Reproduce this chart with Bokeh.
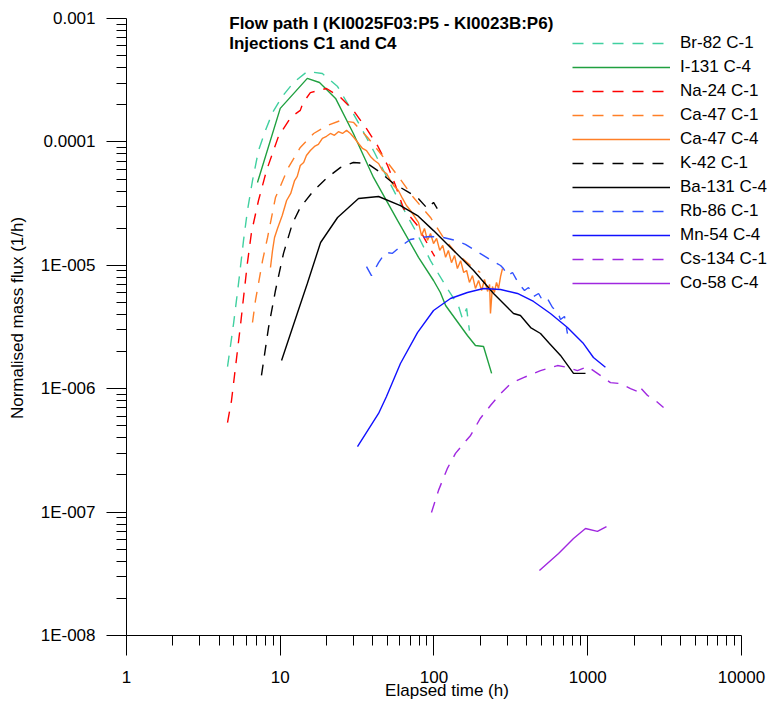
from bokeh.plotting import figure
from bokeh.models import FixedTicker, Label
from bokeh.embed import file_html
from bokeh.resources import INLINE

# ---------------- data (time in h, normalised mass flux in 1/h) ----------------
br82_t = [4.54, 4.75, 4.97, 5.19, 5.43, 5.77, 6.12, 6.60, 7.22, 8.02, 8.91, 10.3, 12.2, 15.0,
          18.8, 23.6, 29.1, 34.3, 41.0, 49.1, 60.5, 75.8, 94.9, 122, 144, 153, 163, 170]
br82_f = [1.51e-6, 2.24e-6, 3.37e-6, 5.19e-6, 8.26e-6, 1.59e-5, 2.78e-5, 4.86e-5, 8.51e-5, 1.24e-4,
          1.73e-4, 2.33e-4, 3.03e-4, 3.72e-4, 3.58e-4, 2.81e-4, 1.80e-4, 1.24e-4, 8.20e-5, 5.25e-5,
          3.17e-5, 1.91e-5, 1.09e-5, 6.49e-6, 4.72e-6, 3.71e-6, 4.47e-6, 2.96e-6]

i131_t = [7.11, 10.0, 15.0, 18.0, 22.9, 29.9, 40.4, 57.9, 79.3, 99.3, 110, 119, 165, 186, 210, 237]
i131_f = [4.69e-5, 1.87e-4, 3.27e-4, 3.03e-4, 2.25e-4, 1.17e-4, 5.15e-5, 2.31e-5, 1.16e-5, 7.53e-6,
          6.02e-6, 4.72e-6, 2.70e-6, 2.24e-6, 2.20e-6, 1.33e-6]

na24_t = [4.54, 4.82, 5.04, 5.27, 5.51, 5.77, 6.12, 6.50, 7.22, 8.14, 9.74, 11.7, 13.5, 14.0, 15.7,
          20.0, 24.7, 29.9, 36.4, 42.9, 49.9, 56.2, 63.4, 78.1, 88.1, 101]
na24_f = [5.32e-7, 8.02e-7, 1.28e-6, 2.04e-6, 3.25e-6, 5.48e-6, 1.05e-5, 1.85e-5, 3.35e-5, 5.86e-5,
          1.11e-4, 1.58e-4, 1.80e-4, 2.05e-4, 2.51e-4, 2.71e-4, 2.29e-4, 1.80e-4, 1.28e-4, 9.35e-5,
          6.44e-5, 4.43e-5, 2.88e-5, 2.10e-5, 1.59e-5, 1.18e-5]

ca47c1_t = [6.60, 6.90, 7.22, 7.67, 8.27, 9.31, 11.3, 13.5, 16.5, 20.3, 24.7, 29.9, 36.9, 44.9,
            57.9, 73.6, 94.9, 115, 138, 173, 200]
ca47c1_f = [3.44e-6, 5.19e-6, 7.12e-6, 1.09e-5, 1.68e-5, 3.54e-5, 6.21e-5, 9.01e-5, 1.17e-4, 1.36e-4,
            1.49e-4, 1.44e-4, 1.09e-4, 8.05e-5, 5.35e-5, 3.54e-5, 2.44e-5, 1.68e-5, 1.27e-5, 9.96e-6,
            8.74e-6]

ca47c4_t = [8.64, 8.91, 9.18, 9.60, 10.3, 11.0, 11.7, 12.4, 12.9, 13.5, 14.2, 14.8, 15.7, 16.7, 17.7,
            18.8, 20.0, 21.2, 22.5, 23.9, 25.4, 27.0, 28.6, 30.4, 32.3, 34.3, 36.4, 38.6, 41.0, 43.6,
            46.2, 49.1, 52.1, 55.3, 58.7, 62.4, 66.2, 70.3, 74.7, 79.3, 83.0, 86.7, 90.7, 94.9, 99.3,
            104, 109, 114, 119, 124, 130, 136, 142, 149, 156, 163, 170, 178, 186, 195, 204, 213, 223,
            230, 233, 240, 247, 255, 263, 271, 279]
ca47c4_f = [9.60e-6, 1.32e-5, 1.68e-5, 1.99e-5, 2.53e-5, 3.35e-5, 3.82e-5, 4.86e-5, 5.25e-5, 6.44e-5,
            6.81e-5, 7.76e-5, 8.51e-5, 9.18e-5, 9.53e-5, 1.07e-4, 1.11e-4, 1.17e-4, 1.13e-4, 1.21e-4,
            1.17e-4, 1.24e-4, 1.17e-4, 1.07e-4, 9.70e-5, 8.85e-5, 8.51e-5, 7.62e-5, 7.07e-5, 6.68e-5,
            5.86e-5, 5.55e-5, 4.86e-5, 4.35e-5, 4.04e-5, 3.48e-5, 3.05e-5, 2.78e-5, 2.48e-5, 2.22e-5,
            1.74e-5, 1.99e-5, 1.59e-5, 1.81e-5, 1.50e-5, 1.65e-5, 1.32e-5, 1.45e-5, 1.16e-5, 1.32e-5,
            1.05e-5, 1.20e-5, 9.42e-6, 1.09e-5, 8.74e-6, 9.08e-6, 7.26e-6, 8.26e-6, 6.49e-6, 7.53e-6,
            6.25e-6, 7.67e-6, 6.14e-6, 6.98e-6, 4.07e-6, 6.73e-6, 6.02e-6, 7.26e-6, 6.49e-6, 8.11e-6,
            9.42e-6]

k42_t = [7.55, 8.39, 9.31, 10.5, 12.0, 13.5, 16.5, 20.3, 24.7, 29.9, 36.9, 44.9, 54.5, 67.3, 78.1,
         90.7, 99.3, 105]
k42_f = [1.28e-6, 3.13e-6, 6.25e-6, 1.25e-5, 2.18e-5, 2.94e-5, 4.04e-5, 5.15e-5, 6.21e-5, 6.81e-5,
         6.68e-5, 5.65e-5, 4.60e-5, 3.96e-5, 3.54e-5, 2.88e-5, 3.23e-5, 2.88e-5]

ba131_t = [10.2, 12.9, 15.0, 18.3, 23.6, 32.3, 43.6, 60.5, 78.1, 99.3, 134, 181, 244, 329, 365, 425,
           493, 556, 665, 808, 967]
ba131_f = [1.69e-6, 4.07e-6, 7.12e-6, 1.53e-5, 2.44e-5, 3.48e-5, 3.61e-5, 3.05e-5, 2.53e-5, 1.91e-5,
           1.32e-5, 9.08e-6, 5.91e-6, 4.07e-6, 3.92e-6, 3.13e-6, 2.80e-6, 2.37e-6, 1.86e-6, 1.33e-6,
           1.33e-6]

rb86_t = [36.4, 39.2, 43.6, 48.4, 53.7, 60.5, 70.3, 81.7, 94.9, 115, 138, 160, 195, 233, 271, 283,
          301, 324, 355, 388, 412, 444, 479, 508, 547, 590, 636, 665, 706, 738]
rb86_f = [9.77e-6, 8.26e-6, 1.05e-5, 1.27e-5, 1.25e-5, 1.42e-5, 1.62e-5, 1.68e-5, 1.71e-5, 1.68e-5,
          1.59e-5, 1.48e-5, 1.27e-5, 1.11e-5, 9.96e-6, 9.42e-6, 8.26e-6, 8.74e-6, 7.12e-6, 6.25e-6,
          6.61e-6, 5.58e-6, 5.91e-6, 5.19e-6, 5.38e-6, 4.55e-6, 4.22e-6, 3.64e-6, 3.85e-6, 2.80e-6]

mn54_t = [31.8, 43.6, 49.1, 60.5, 78.1, 99.3, 128, 165, 210, 271, 349, 444, 572, 738, 938, 1089, 1303]
mn54_f = [3.40e-7, 6.30e-7, 8.65e-7, 1.60e-6, 2.85e-6, 4.30e-6, 5.38e-6, 6.02e-6, 6.49e-6, 6.37e-6,
          5.91e-6, 5.09e-6, 4.07e-6, 3.13e-6, 2.32e-6, 1.79e-6, 1.49e-6]

cs134_t = [96.3, 107, 122, 138, 156, 173, 200, 233, 271, 315, 382, 493, 636, 738, 857, 996, 1089,
           1265, 1405, 1632, 1897, 2108, 2172, 2449, 2759, 3112]
cs134_f = [9.93e-8, 1.50e-7, 2.25e-7, 2.99e-7, 3.60e-7, 4.18e-7, 5.74e-7, 7.31e-7, 9.14e-7, 1.10e-6,
           1.23e-6, 1.40e-6, 1.54e-6, 1.49e-6, 1.40e-6, 1.51e-6, 1.40e-6, 1.23e-6, 1.12e-6, 1.10e-6,
           1.00e-6, 9.49e-7, 1.04e-6, 8.81e-7, 8.02e-7, 7.05e-7]

co58_t = [485, 646, 808, 967, 1156, 1324]
co58_f = [3.36e-8, 4.62e-8, 6.11e-8, 7.36e-8, 6.97e-8, 7.64e-8]

series_names = ["Br-82 C-1", "I-131 C-4", "Na-24 C-1", "Ca-47 C-1", "Ca-47 C-4", "K-42 C-1",
                "Ba-131 C-4", "Rb-86 C-1", "Mn-54 C-4", "Cs-134 C-1", "Co-58 C-4"]

x_tick_vals = [1, 10, 100, 1000, 10000]
x_tick_labels = ["1", "10", "100", "1000", "10000"]
y_tick_vals = [1e-8, 1e-7, 1e-6, 1e-5, 1e-4, 1e-3]
y_tick_labels = ["1E-008", "1E-007", "1E-006", "1E-005", "0.0001", "0.001"]

title_lines = ["Flow path I (KI0025F03:P5 - KI0023B:P6)", "Injections C1 and C4"]
x_title = "Elapsed time (h)"
y_title = "Normalised mass flux (1/h)"

# ---------------- figure ----------------
FONT = "Liberation Sans"
FS = "17px"

# the frame fills the canvas to the right and top so that the legend and the
# title are not clipped; the axes themselves are bounded to the data ranges
p = figure(width=767, height=703, x_axis_type="log", y_axis_type="log",
           x_range=(1, 14763), y_range=(1e-8, 1.399e-3),
           output_backend="svg", toolbar_location=None,
           min_border_left=126, min_border_right=0, min_border_top=0, min_border_bottom=68)
p.outline_line_color = None
p.grid.visible = False
p.background_fill_color = "white"
p.border_fill_color = "white"

series = [
    (br82_t, br82_f, "#40D0A0", "dashed"),
    (i131_t, i131_f, "#20A040", "solid"),
    (na24_t, na24_f, "#FF0000", "dashed"),
    (ca47c1_t, ca47c1_f, "#FF7F27", "dashed"),
    (ca47c4_t, ca47c4_f, "#FF7F27", "solid"),
    (k42_t, k42_f, "#000000", "dashed"),
    (ba131_t, ba131_f, "#000000", "solid"),
    (rb86_t, rb86_f, "#3050FF", "dashed"),
    (mn54_t, mn54_f, "#1010FF", "solid"),
    (cs134_t, cs134_f, "#A028E0", "dashed"),
    (co58_t, co58_f, "#A028E0", "solid"),
]
for name, (t, f, col, sty) in zip(series_names, series):
    dash = "11 9" if sty == "dashed" else "solid"
    p.line(t, f, line_color=col, line_width=1.4, line_dash=dash, legend_label=name)

# axes
x_minor = [k * 10 ** n for n in range(0, 4) for k in range(2, 10)]
y_minor = [k * 10.0 ** n for n in range(-8, -3) for k in range(2, 10)]
p.xaxis.ticker = FixedTicker(ticks=x_tick_vals, minor_ticks=x_minor)
p.yaxis.ticker = FixedTicker(ticks=y_tick_vals, minor_ticks=y_minor)
p.xaxis.major_label_overrides = {v: s for v, s in zip(x_tick_vals, x_tick_labels)}
p.yaxis.major_label_overrides = {v: s for v, s in zip(y_tick_vals, y_tick_labels)}
p.xaxis.bounds = (1, 10000)
p.yaxis.bounds = (1e-8, 1e-3)

for ax in (p.xaxis[0], p.yaxis[0]):
    ax.axis_line_color = "black"
    ax.axis_line_width = 1
    ax.major_tick_in = 0
    ax.major_tick_out = 20
    ax.minor_tick_in = 0
    ax.minor_tick_out = 10
    ax.major_tick_line_color = "black"
    ax.minor_tick_line_color = "black"
    ax.major_label_text_font = FONT
    ax.major_label_text_font_size = FS
    ax.major_label_text_color = "black"
    ax.axis_label_text_font = FONT
    ax.axis_label_text_font_size = FS
    ax.axis_label_text_font_style = "normal"
    ax.axis_label_text_color = "black"

p.xaxis.major_label_standoff = 15
p.xaxis.axis_label = x_title
p.xaxis.axis_label_standoff = -5
p.yaxis.major_label_standoff = 11
p.yaxis.axis_label = y_title
p.yaxis.axis_label_standoff = 11

# chart title (two bold lines inside the frame)
for txt, yv in zip(title_lines, [9.19e-4, 6.33e-4]):
    p.add_layout(Label(x=4.66, y=yv, text=txt, text_align="left", text_baseline="alphabetic",
                       text_font=FONT, text_font_size=FS, text_font_style="bold",
                       text_color="black"))

# legend
lg = p.legend[0]
lg.location = (446, 342)
lg.padding = 0
lg.margin = 0
lg.spacing = 4
lg.glyph_width = 98
lg.glyph_height = 20
lg.label_height = 20
lg.label_standoff = 10
lg.label_text_font = FONT
lg.label_text_font_size = FS
lg.label_text_color = "black"
lg.border_line_color = None
lg.background_fill_alpha = 0

open("out.html", "w").write(file_html(p, INLINE))
